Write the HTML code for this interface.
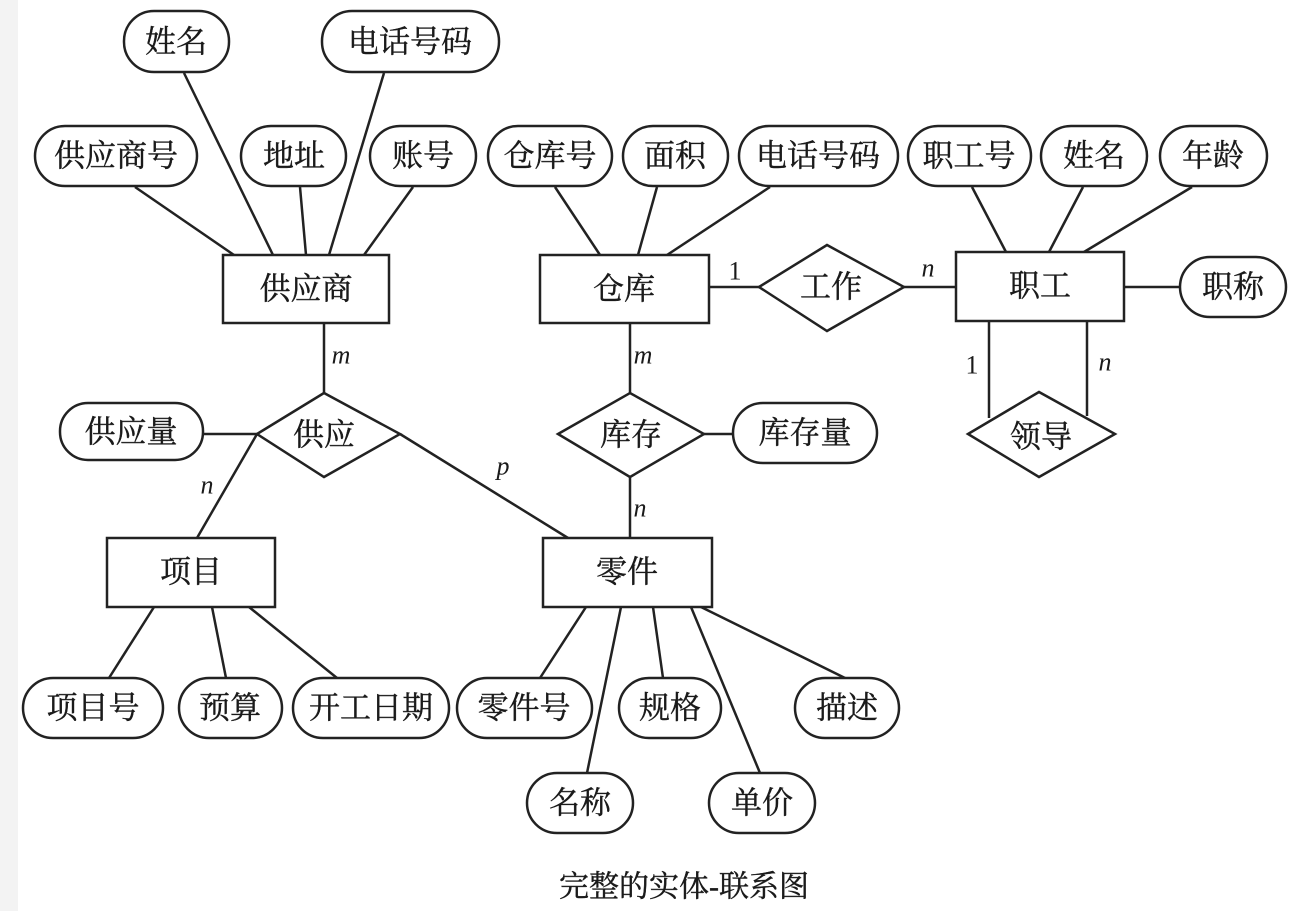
<!DOCTYPE html>
<html><head><meta charset="utf-8"><style>
html,body{margin:0;padding:0;background:#fff;}
svg{display:block;}
text{font-family:"Liberation Serif","Noto Serif CJK SC",serif;font-size:31px;fill:#1a1a1a;text-anchor:middle;dominant-baseline:central;stroke:#1a1a1a;stroke-width:0.4;}
.l{font-style:italic;font-size:26px;stroke-width:0;}
</style></head><body>
<svg width="1310" height="911" viewBox="0 0 1310 911" xmlns="http://www.w3.org/2000/svg">
<rect x="0" y="0" width="18" height="911" fill="#f3f3f3"/>
<g stroke="#222" stroke-width="2.5" fill="none">
<line x1="135" y1="187" x2="234" y2="255"/>
<line x1="184" y1="73" x2="273" y2="255"/>
<line x1="300" y1="187" x2="306" y2="255"/>
<line x1="384" y1="73" x2="329" y2="255"/>
<line x1="413" y1="187" x2="364" y2="255"/>
<line x1="555" y1="187" x2="600" y2="255"/>
<line x1="657" y1="187" x2="638" y2="255"/>
<line x1="770" y1="187" x2="667" y2="255"/>
<line x1="972" y1="187" x2="1006" y2="252"/>
<line x1="1083" y1="187" x2="1049" y2="252"/>
<line x1="1192" y1="187" x2="1084" y2="252"/>
<line x1="1124" y1="287" x2="1180" y2="287"/>
<line x1="709" y1="287" x2="759" y2="287"/>
<line x1="904" y1="287" x2="956" y2="287"/>
<line x1="989" y1="321" x2="989" y2="418"/>
<line x1="1087" y1="321" x2="1087" y2="416"/>
<line x1="324" y1="323" x2="324" y2="393"/>
<line x1="630" y1="323" x2="630" y2="393"/>
<line x1="203" y1="434" x2="257" y2="434"/>
<line x1="704" y1="434" x2="733" y2="434"/>
<line x1="257" y1="434" x2="197" y2="538"/>
<line x1="400" y1="434" x2="568" y2="538"/>
<line x1="630" y1="477" x2="630" y2="538"/>
<line x1="154" y1="607" x2="109" y2="678"/>
<line x1="212" y1="607" x2="226" y2="678"/>
<line x1="249" y1="607" x2="337" y2="678"/>
<line x1="586" y1="607" x2="540" y2="678"/>
<line x1="621" y1="607" x2="587" y2="773"/>
<line x1="653" y1="607" x2="663" y2="678"/>
<line x1="691" y1="607" x2="760" y2="773"/>
<line x1="701" y1="607" x2="845" y2="678"/>
<rect x="223" y="255" width="166" height="68" fill="#fff"/>
<rect x="540" y="255" width="169" height="68" fill="#fff"/>
<rect x="956" y="252" width="168" height="69" fill="#fff"/>
<rect x="107" y="538" width="168" height="69" fill="#fff"/>
<rect x="543" y="538" width="169" height="69" fill="#fff"/>
<polygon points="257,434 324,393 400,434 324,477" fill="#fff"/>
<polygon points="558,434 630,393 704,434 630,477" fill="#fff"/>
<polygon points="759,287 827,245 904,287 827,331" fill="#fff"/>
<polygon points="968,434 1039,392 1115,434 1039,477" fill="#fff"/>
<rect x="124" y="11" width="105" height="61" rx="30" fill="#fff"/>
<rect x="322" y="11" width="177" height="61" rx="30" fill="#fff"/>
<rect x="35" y="126" width="162" height="60" rx="30" fill="#fff"/>
<rect x="241" y="126" width="105" height="60" rx="30" fill="#fff"/>
<rect x="370" y="126" width="106" height="60" rx="30" fill="#fff"/>
<rect x="488" y="126" width="124" height="60" rx="30" fill="#fff"/>
<rect x="623" y="126" width="105" height="60" rx="30" fill="#fff"/>
<rect x="739" y="126" width="159" height="60" rx="30" fill="#fff"/>
<rect x="908" y="126" width="123" height="60" rx="30" fill="#fff"/>
<rect x="1041" y="126" width="106" height="60" rx="30" fill="#fff"/>
<rect x="1160" y="126" width="107" height="60" rx="30" fill="#fff"/>
<rect x="1180" y="257" width="106" height="60" rx="30" fill="#fff"/>
<rect x="60" y="403" width="143" height="57" rx="28" fill="#fff"/>
<rect x="733" y="403" width="144" height="60" rx="30" fill="#fff"/>
<rect x="23" y="678" width="140" height="60" rx="30" fill="#fff"/>
<rect x="179" y="678" width="103" height="60" rx="30" fill="#fff"/>
<rect x="293" y="678" width="156" height="60" rx="30" fill="#fff"/>
<rect x="457" y="678" width="135" height="60" rx="30" fill="#fff"/>
<rect x="619" y="678" width="102" height="60" rx="30" fill="#fff"/>
<rect x="795" y="678" width="104" height="60" rx="30" fill="#fff"/>
<rect x="527" y="773" width="106" height="60" rx="30" fill="#fff"/>
<rect x="709" y="773" width="106" height="60" rx="30" fill="#fff"/>
</g>
<text x="176" y="42">姓名</text>
<text x="410" y="42">电话号码</text>
<text x="116" y="156">供应商号</text>
<text x="294" y="156">地址</text>
<text x="423" y="156">账号</text>
<text x="550" y="156">仓库号</text>
<text x="675" y="156">面积</text>
<text x="818" y="156">电话号码</text>
<text x="969" y="156">职工号</text>
<text x="1094" y="156">姓名</text>
<text x="1213" y="156">年龄</text>
<text x="1233" y="287">职称</text>
<text x="306" y="289">供应商</text>
<text x="624" y="289">仓库</text>
<text x="1040" y="286">职工</text>
<text x="831" y="287">工作</text>
<text x="324" y="435">供应</text>
<text x="631" y="435">库存</text>
<text x="1041" y="437">领导</text>
<text x="131" y="432">供应量</text>
<text x="805" y="433">库存量</text>
<text x="191" y="572">项目</text>
<text x="627" y="572">零件</text>
<text x="93" y="708">项目号</text>
<text x="230" y="708">预算</text>
<text x="371" y="708">开工日期</text>
<text x="524" y="708">零件号</text>
<text x="670" y="708">规格</text>
<text x="847" y="708">描述</text>
<text x="580" y="803">名称</text>
<text x="762" y="803">单价</text>
<text x="684" y="887" style="font-size:30px">完整的实体-联系图</text>
<text class="l" x="341" y="355">m</text>
<text class="l" x="643" y="355">m</text>
<text class="l" x="207" y="485">n</text>
<text class="l" x="503" y="466">p</text>
<text class="l" x="640" y="508">n</text>
<text class="l" x="735" y="271" style="font-style:normal">1</text>
<text class="l" x="928" y="268">n</text>
<text class="l" x="972" y="365" style="font-style:normal">1</text>
<text class="l" x="1105" y="362">n</text>
</svg>
</body></html>
